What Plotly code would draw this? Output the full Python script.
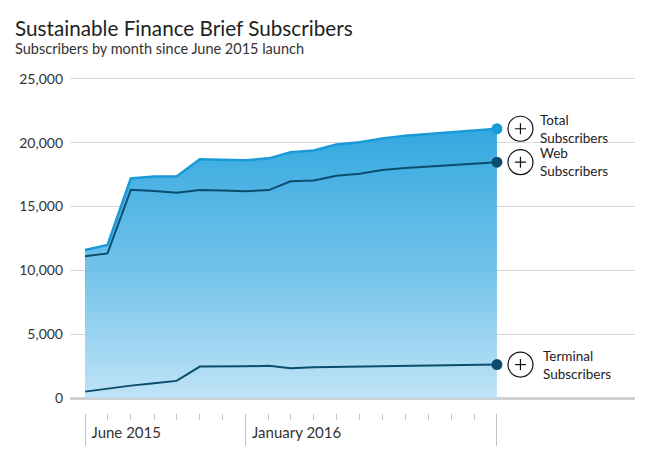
import pandas as pd
import plotly.graph_objects as go

# monthly subscriber counts
months = ['2015-06-01', '2015-07-01', '2015-08-01', '2015-09-01', '2015-10-01',
          '2015-11-01', '2015-12-01', '2016-01-01', '2016-02-01', '2016-03-01',
          '2016-04-01', '2016-05-01', '2016-06-01', '2016-07-01', '2016-08-01',
          '2016-09-01', '2016-10-01', '2016-11-01', '2016-12-01']
total = [11600, 12000, 17200, 17350, 17350, 18700, 18680, 18630, 18780, 19260,
         19400, 19860, 20050, 20340, 20560, 20690, 20820, 20950, 21100]
web = [11100, 11330, 16310, 16230, 16080, 16290, 16260, 16210, 16290, 16980,
       17050, 17420, 17580, 17870, 18030, 18130, 18240, 18350, 18480]
terminal = [500, 760, 970, 1150, 1340, 2460, 2460, 2480, 2520, 2330,
            2400, 2430, 2480, 2480, 2500, 2520, 2550, 2580, 2620]

series_names = ['Total<br>Subscribers', 'Web<br>Subscribers', 'Terminal<br>Subscribers']
y_ticks = [0, 5000, 10000, 15000, 20000, 25000]
major_ticks = ['2015-06-01', '2016-01-01', '2016-12-01']
major_text = ['June 2015', 'January 2016', '']

FONT = 'Lato'
LIGHT = '#1a9ad6'
DARK = '#0b4d6e'
x_range = ['2015-05-12', '2017-06-03']

# the page body adds an 8px margin, so the figure is drawn 8px smaller
W, H = 638, 445

fig = go.Figure()

# filled total area with vertical gradient (slightly transparent so grid shows)
fig.add_trace(go.Scatter(
    x=months, y=total, mode='lines', fill='tozeroy',
    line=dict(color=LIGHT, width=2.5),
    fillgradient=dict(type='vertical', start=0, stop=max(total),
                      colorscale=[[0, 'rgba(183,224,245,0.88)'],
                                  [0.48, 'rgba(95,186,231,0.88)'],
                                  [1, 'rgba(23,157,219,0.88)']]),
    showlegend=False))

fig.add_trace(go.Scatter(x=months, y=web, mode='lines',
                         line=dict(color=DARK, width=2), showlegend=False))
fig.add_trace(go.Scatter(x=months, y=terminal, mode='lines',
                         line=dict(color=DARK, width=2), showlegend=False))

# end-point dots
last_vals = [total[-1], web[-1], terminal[-1]]
fig.add_trace(go.Scatter(
    x=[months[-1]] * 3, y=last_vals, mode='markers',
    marker=dict(size=11, color=[LIGHT, DARK, DARK]),
    xaxis='x2', showlegend=False))

# circled plus + label next to each end point
for i, (val, name) in enumerate(zip(last_vals, series_names)):
    common = dict(xref='x', yref='y', xsizemode='pixel', ysizemode='pixel',
                  xanchor=months[-1], yanchor=val, line=dict(color='#111', width=1.2))
    fig.add_shape(type='circle', x0=11, x1=36, y0=-12.5, y1=12.5, **common)
    fig.add_shape(type='line', x0=18, x1=29, y0=0, y1=0, **common)
    fig.add_shape(type='line', x0=23.5, x1=23.5, y0=-5.5, y1=5.5, **common)
    fig.add_annotation(x=months[-1], y=val, xref='x', yref='y', text=name,
                       showarrow=False, xanchor='left', yanchor='middle', align='left',
                       xshift=44 if i == 2 else 41,
                       font=dict(family=FONT, size=13.5, color='#222'))

# title and subtitle
fig.add_annotation(x=5 / W, y=1 - 20 / H, xref='paper', yref='paper',
                   text='Sustainable Finance Brief Subscribers', showarrow=False,
                   xanchor='left', yanchor='middle',
                   font=dict(family=FONT, size=20.7, color='#222'))
fig.add_annotation(x=5 / W, y=1 - 41 / H, xref='paper', yref='paper',
                   text='Subscribers by month since June 2015 launch', showarrow=False,
                   xanchor='left', yanchor='middle',
                   font=dict(family=FONT, size=14.5, color='#333'))

fig.update_layout(
    width=W, height=H,
    margin=dict(l=0, r=0, t=0, b=0),
    paper_bgcolor='white', plot_bgcolor='white',
    font=dict(family=FONT, color='#333'),
    xaxis=dict(type='date', range=x_range, domain=[62 / W, 627 / W],
               showgrid=False, showline=False, automargin=False,
               zeroline=False, ticks='', showticklabels=False),
    xaxis2=dict(type='date', range=x_range, overlaying='x', anchor='free',
                position=1 - 404.5 / H, showgrid=False, showline=False,
                zeroline=False, automargin=False,
                tickmode='array', tickvals=major_ticks, ticktext=major_text,
                ticks='outside', ticklen=32, tickwidth=1, tickcolor='#c4c4c4',
                ticklabelposition='outside right', ticklabelshift=6,
                ticklabelstandoff=6,
                tickfont=dict(family=FONT, size=15, color='#333'),
                minor=dict(tickmode='array',
                           tickvals=list(pd.date_range('2015-07-01', '2016-11-01', freq='MS')),
                           ticks='outside', ticklen=6, tickwidth=1, tickcolor='#c4c4c4')),
    yaxis=dict(range=[0, 25100], domain=[1 - 390 / H, 1 - 69.7 / H],
               tickvals=y_ticks, automargin=False,
               tickformat=',', ticks='', showline=False,
               showgrid=True, gridcolor='#d6d6d6', gridwidth=1,
               zeroline=True, zerolinecolor='#d0d0d0', zerolinewidth=3,
               ticklabelstandoff=6,
               tickfont=dict(family=FONT, size=14, color='#333')),
    hovermode=False,
)

fig.write_html("out.html")
